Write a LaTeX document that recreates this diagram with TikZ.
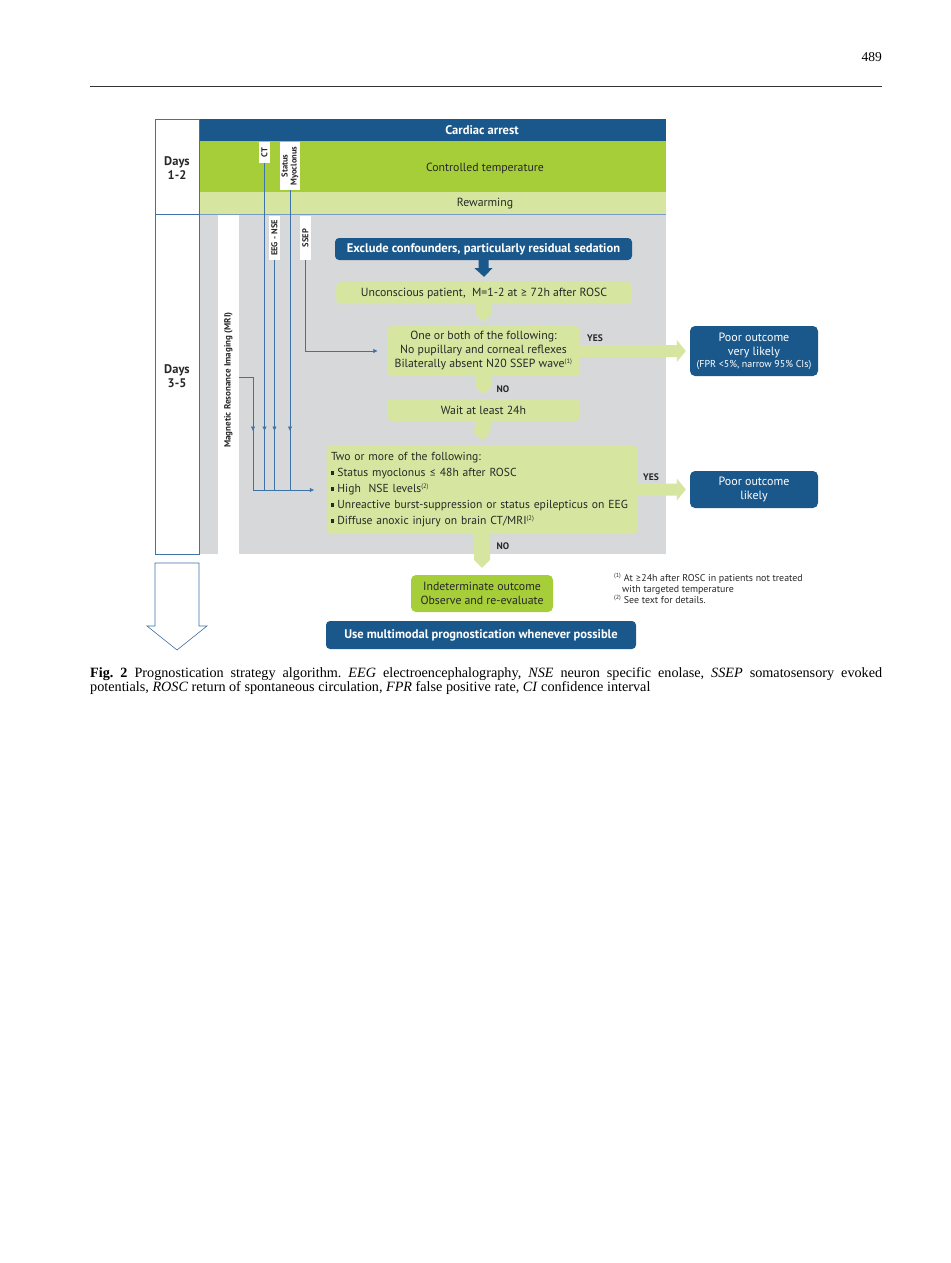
\documentclass[tikz,border=0pt]{standalone}
\usepackage{fontspec}
\setmainfont{Liberation Serif}
\newfontfamily\dsans{PT Sans}
\newfontfamily\symf{Lato}
\usetikzlibrary{arrows.meta,calc}
\definecolor{dblue}{RGB}{26,88,140}
\definecolor{mgreen}{RGB}{166,206,57}
\definecolor{lgreen}{RGB}{214,230,160}
\definecolor{lgray}{RGB}{214,216,218}
\definecolor{lblue}{RGB}{62,114,168}
\definecolor{dtext}{RGB}{40,40,40}
\newcommand\sq{\raisebox{1.6pt}{\rule{3.4pt}{3.4pt}}\hspace{3pt}}
\newcommand\gesym{{\symf ≥}}
\newcommand\lesym{{\symf ≤}}
\newcommand\gconn[2]{%
  \fill[lgreen] ($(#1.south)+(-8,-2)$) -- ($(#1.south)+(8,-2)$) -- ($(#2.north)+(8,-12)$) -- ($(#2.north)+(0,-4)$) -- ($(#2.north)+(-8,-12)$) -- cycle;}
\newcommand\yesarrow[2]{%
  \fill[lgreen] ($(#1.east)+(-3,-6)$) -- ($(#2.west)+(-13,-6)$) -- ($(#2.west)+(-13,-11)$) -- ($(#2.west)+(-4,0)$) -- ($(#2.west)+(-13,11)$) -- ($(#2.west)+(-13,6)$) -- ($(#1.east)+(-3,6)$) -- cycle;}
\begin{document}
\frenchspacing
\begin{tikzpicture}[x=1pt,y=-1pt,
  bluebox/.style={fill=dblue, text=white, rounded corners=4pt, inner sep=0pt, align=center, font=\dsans\bfseries\fontsize{12.5}{14}\selectfont},
  poorbox/.style={fill=dblue, text=white, rounded corners=5pt, inner sep=0pt, align=center, font=\dsans\fontsize{12}{14}\selectfont},
  greenbox/.style={fill=lgreen, text=dtext, rounded corners=5pt, inner sep=0pt, align=center, font=\dsans\fontsize{11.8}{14}\selectfont},
  lbl/.style={fill=white, inner sep=0.5pt, rotate=90, align=center, font=\dsans\bfseries\fontsize{8.5}{9}\selectfont, text=dtext},
  conn/.style={draw=lblue, line width=0.7pt},
  tip/.style={-{Latex[length=4.5pt,width=4.5pt]}},
  yn/.style={font=\dsans\bfseries\fontsize{9.5}{10}\selectfont, text=dtext},
  fnote/.style={anchor=base west, inner sep=0pt, font=\dsans\fontsize{9.9}{10}\selectfont, text=dtext},
  band/.style={font=\dsans\fontsize{11.8}{13}\selectfont, text=dtext}]
\useasboundingbox (0,0) rectangle (950,1263);
\fill[white] (0,0) rectangle (950,1263);

% header
\node[anchor=base east, inner sep=0pt, font=\fontsize{13.5}{14}\selectfont] (pg) at (882,62) {489};
\draw[line width=0.8pt, black!80] (90,86) -- (882,86);

% bands
\fill[dblue] (199,119) rectangle (666,141);
\fill[mgreen] (199,141) rectangle (666,192);
\fill[lgreen] (199,192) rectangle (666,214);
\fill[lgray] (199,214) rectangle (666,554);
\fill[white] (218,214) rectangle (239,554);
\draw[lblue!70, line width=0.5pt] (199,214) -- (666,214);
\draw[lblue, line width=0.6pt] (155,119) rectangle (199,214);
\draw[lblue, line width=0.6pt] (155,214) rectangle (199,554);

\node[band, font=\dsans\bfseries\fontsize{12.5}{14}\selectfont, text=white] (ca) at (482,130) {Cardiac arrest};
\node[band] (tc) at (485,168) {Controlled temperature};
\node[band] (rw) at (485,204) {Rewarming};
\node[band, font=\dsans\bfseries\fontsize{12.5}{14}\selectfont, align=center] (d12) at (177,168) {Days\\1-2};
\node[band, font=\dsans\bfseries\fontsize{12.5}{14}\selectfont, align=center] (d35) at (177,376) {Days\\3-5};

% rotated labels
\node[lbl, font=\dsans\bfseries\fontsize{9}{10}\selectfont, fill=none] (mri) at (228.5,380) {Magnetic Resonance Imaging (MRI)};
\node[lbl, minimum width=21, minimum height=11] (ctl) at (264.5,152.5) {CT};
\node[lbl, minimum width=48, minimum height=20] (stl) at (290,166) {Status\\Myoclonus};
\node[lbl, minimum width=44, minimum height=11] (eeg) at (274.5,238) {EEG - NSE};
\node[lbl, minimum width=44, minimum height=11] (ssep) at (305.5,238) {SSEP};

% main boxes
\node[bluebox, minimum width=297, minimum height=22] (exc) at (483.5,249) {Exclude confounders, particularly residual sedation};
\node[greenbox, minimum width=296, minimum height=22] (unc) at (484,293) {Unconscious patient,\ \ M=1-2 at \gesym\ 72h after ROSC};
\node[greenbox, minimum width=193, minimum height=50] (one) at (483.5,351) {One or both of the following:\\No pupillary and corneal reflexes\\Bilaterally absent N20 SSEP wave\textsuperscript{\fontsize{6.5}{6.5}\selectfont(1)}};
\node[greenbox, minimum width=193, minimum height=22] (wait) at (483.5,410) {Wait at least 24h};
\node[greenbox, minimum width=311, minimum height=89, text width=302, align=left, font=\dsans\fontsize{11.6}{16}\selectfont] (two) at (482,489.5) {Two or more of the following:\\\sq Status myoclonus \lesym\ 48h after ROSC\\\sq High\ \ NSE levels\textsuperscript{\fontsize{6.5}{6.5}\selectfont(2)}\\\sq Unreactive burst-suppression or status epilepticus on EEG\\\sq Diffuse anoxic injury on brain CT/MRI\textsuperscript{\fontsize{6.5}{6.5}\selectfont(2)}};
\node[poorbox, minimum width=128, minimum height=50] (poor1) at (754,351) {Poor outcome\\very likely\\[-2pt]{\fontsize{10}{11}\selectfont(FPR <5\%, narrow 95\% CIs)}};
\node[poorbox, minimum width=128, minimum height=37] (poor2) at (754,489.5) {Poor outcome\\likely};
\node[greenbox, fill=mgreen, minimum width=142, minimum height=37] (ind) at (482,593.5) {Indeterminate outcome\\Observe and re-evaluate};
\node[bluebox, minimum width=310, minimum height=28] (multi) at (481,635) {Use multimodal prognostication whenever possible};

% blue block arrow
\fill[dblue] ($(exc.south)+(-5,-2)$) -- ($(exc.south)+(5,-2)$) -- ($(exc.south)+(5,8)$) -- ($(exc.south)+(9,8)$) -- ($(unc.north)+(0,-5)$) -- ($(exc.south)+(-9,8)$) -- ($(exc.south)+(-5,8)$) -- cycle;

% green connectors
\gconn{unc}{one}
\gconn{one}{wait}
\gconn{wait}{two}
\fill[lgreen] ($(two.south)+(-8,-2)$) -- ($(two.south)+(8,-2)$) -- ($(ind.north)+(8,-15)$) -- ($(ind.north)+(0,-7)$) -- ($(ind.north)+(-8,-15)$) -- cycle;
\yesarrow{one}{poor1}
\yesarrow{two}{poor2}

\node[yn] (yes1) at (595,338) {YES};
\node[yn] (no1) at (503,389) {NO};
\node[yn] (yes2) at (651,477) {YES};
\node[yn] (no2) at (503,546) {NO};

% test lines
\coordinate (arow) at (0,431);
\coordinate (hline) at (0,490);
\coordinate (mriout) at (239,377);
\coordinate (mrik) at (253,377);
\draw[conn] (ctl.west) -- (ctl.west |- hline);
\draw[conn] (eeg.west) -- (eeg.west |- hline);
\draw[conn] (stl.west) -- (stl.west |- hline);
\draw[conn, tip] (ctl.west) -- (ctl.west |- arow);
\draw[conn, tip] (eeg.west) -- (eeg.west |- arow);
\draw[conn, tip] (stl.west) -- (stl.west |- arow);
\draw[conn, tip] (mriout) -- (mrik) -- (mrik |- arow);
\draw[conn, tip] (mrik) -- (mrik |- hline) -- ($(two.west)+(-12,0.5)$);
\draw[conn, tip] (ssep.west) |- ($(one.west)+(-9,0)$);

% big hollow arrow
\draw[lblue, fill=white, line width=0.6pt] (155,563) -- (199,563) -- (199,626) -- (207,626) -- (177,650) -- (147,626) -- (155,626) -- cycle;

% footnotes
\node[fnote] (fn1) at (614,581) {\textsuperscript{\fontsize{6}{6}\selectfont(1)} At \gesym24h after ROSC in patients not treated};
\node[fnote] (fn2) at (622,592) {with targeted temperature};
\node[fnote] (fn3) at (614,603) {\textsuperscript{\fontsize{6}{6}\selectfont(2)} See text for details.};

% caption
\node[anchor=base west, inner sep=0pt, font=\fontsize{14.2}{14}\selectfont] (cap1) at (90,677) {\makebox[792pt][s]{\textbf{Fig. 2} Prognostication strategy algorithm. \textit{EEG} electroencephalography, \textit{NSE} neuron specific enolase, \textit{SSEP} somatosensory evoked}};
\node[anchor=base west, inner sep=0pt, font=\fontsize{14.2}{14}\selectfont] (cap2) at (90,691) {potentials, \textit{ROSC} return of spontaneous circulation, \textit{FPR} false positive rate, \textit{CI} confidence interval};
\end{tikzpicture}
\end{document}
